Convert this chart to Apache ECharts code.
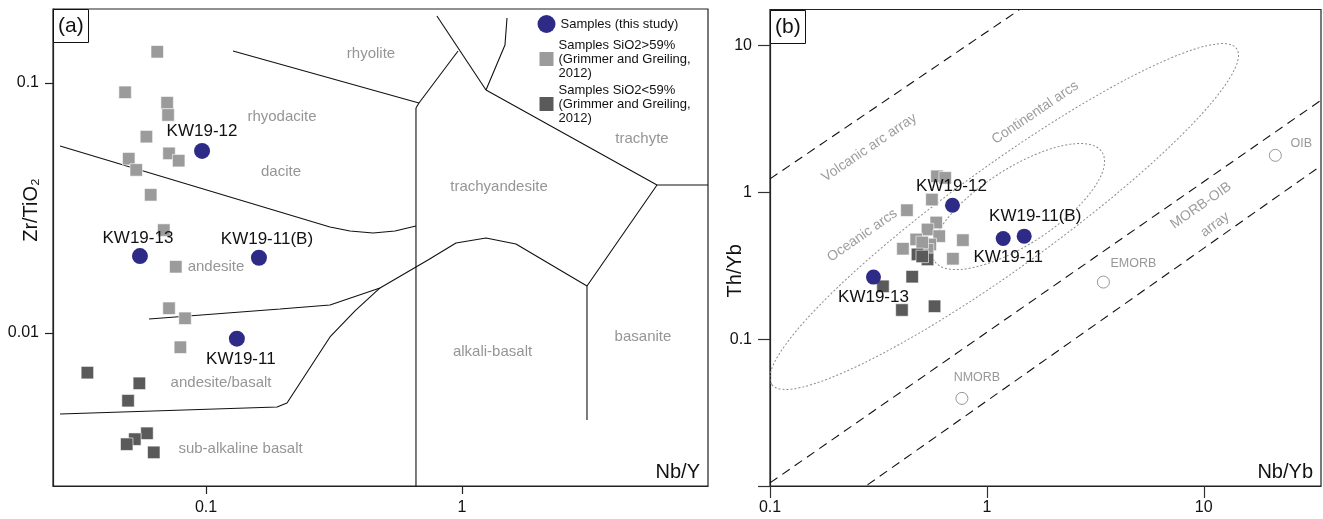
<!DOCTYPE html>
<html><head><meta charset="utf-8">
<script src="https://cdn.jsdelivr.net/npm/echarts@6/dist/echarts.min.js"></script>
<style>html,body{margin:0;padding:0;background:#fff}#c{width:1323px;height:519px}</style>
</head><body><div id="c"></div><script>
const FONT = 'Liberation Sans';

// ---------- legend / series names ----------
const N_SAMPLES = 'Samples (this study)';
const N_HIGH = 'Samples SiO2>59%\n(Grimmer and Greiling,\n2012)';
const N_LOW = 'Samples SiO2<59%\n(Grimmer and Greiling,\n2012)';

// ---------- Panel (a): Zr/TiO2 vs Nb/Y ----------
const a_xRange = [0.02525, 9.141];
const a_yRange = [0.002443, 0.1977];
const a_xTicks = [0.1, 1];
const a_yTicks = [0.01, 0.1];
const a_samples = [['KW19-12', 0.0965, 0.0535], ['KW19-13', 0.0552, 0.0203], ['KW19-11(B)', 0.161, 0.0200], ['KW19-11', 0.132, 0.00949]];
const a_high = [[0.0645,0.1333],[0.0483,0.0918],[0.0705,0.0834],[0.0711,0.0745],[0.0585,0.0610],[0.0717,0.0523],[0.0782,0.0489],[0.0499,0.0498],[0.0534,0.0449],[0.0608,0.0357],[0.0684,0.0258],[0.0762,0.0184],[0.0717,0.01256],[0.0828,0.01145],[0.0794,0.00877]];
const a_low = [[0.0344,0.00694],[0.0549,0.00629],[0.0496,0.00536],[0.0588,0.00397],[0.0527,0.00376],[0.0490,0.00359],[0.0625,0.00333]];
const a_lineA = [[0.1275,0.1343],[0.679,0.0832],[0.661,0.0794]];
const a_lineB = [[0.679,0.0832],[0.965,0.1343]];
const a_lineC = [[0.798,0.1854],[1.241,0.0938]];
const a_lineD = [[1.241,0.0938],[1.472,0.1419],[1.499,0.1820]];
const a_lineE = [[1.241,0.0938],[5.778,0.03908],[9.14,0.03908]];
const a_lineF = [[5.778,0.03908],[3.078,0.01542],[3.078,0.004487]];
const a_lineG = [[0.661,0.0794],[0.661,0.002443]];
const a_lineH = [[0.0269,0.05598],[0.3050,0.02655],[0.3652,0.02559],[0.4491,0.02512],[0.5474,0.02559],[0.661,0.02679]];
const a_lineI = [[0.05988,0.01138],[0.1945,0.01247],[0.3050,0.01294],[0.4783,0.01514],[0.7364,0.01959],[0.9475,0.02291],[1.241,0.02399],[1.625,0.0227],[2.072,0.01959],[3.078,0.01542]];
const a_lineJ = [[0.0269,0.004742],[0.1894,0.005058],[0.2072,0.005248],[0.3050,0.009638],[0.3820,0.01225],[0.4783,0.01514]];
const a_fields = [['rhyolite',0.4411,0.1306],['rhyodacite',0.1981,0.0731],['dacite',0.1963,0.04406],['trachyte',5.047,0.0597],['trachyandesite',1.395,0.03837],['andesite',0.1094,0.01837],['andesite/basalt',0.1145,0.00631],['sub-alkaline basalt',0.1364,0.003436],['alkali-basalt',1.316,0.00839],['basanite',5.093,0.00964]];

// ---------- Panel (b): Th/Yb vs Nb/Yb ----------
const b_xRange = [0.1, 34.72];
const b_yRange = [0.01, 17.56];
const b_xTicks = [0.1, 1, 10];
const b_yTickMarks = [0.01, 0.1, 1, 10];
const b_yTicks = [0.1, 1, 10];
const b_samples = [['KW19-12',0.694,0.816],['KW19-11',1.189,0.4848],['KW19-11(B)',1.486,0.5025],['KW19-13',0.300,0.2646]];
const b_high = [[0.5885,1.284],[0.6424,1.253],[0.5580,0.892],[0.4279,0.7548],[0.5840,0.6225],[0.5325,0.5579],[0.6029,0.5025],[0.4722,0.4773],[0.5481,0.4413],[0.7750,0.4721],[0.4101,0.4125],[0.5325,0.4061],[0.6972,0.3528],[0.5035,0.4553]];
const b_low = [[0.4787,0.3775],[0.5325,0.3490],[0.4526,0.2662],[0.3318,0.2288],[0.4058,0.1579],[0.5737,0.1674],[0.5035,0.3658]];
const b_refs = [['OIB',21.38,1.784],['EMORB',3.446,0.2447],['NMORB',0.7671,0.03949]];
const b_arcLine = [[0.1,1.234],[1.409,17.43]];
const b_morbUpper = [[0.1,0.0105],[34.7,4.23]];
const b_morbLower = [[0.2814,0.01017],[34.7,1.515]];
// ellipse: major-axis end 1, major-axis end 2, point on minor axis
const b_ellipseOuter = [0.1019,0.04915,14.17,9.513,1.650,0.3584];
const b_ellipseInner = [0.5723,0.3408,3.396,1.876,1.736,0.4855];
const b_fields = [['Volcanic arc array',0.2868,2.012],['Continental arcs',1.670,3.478],['Oceanic arcs',0.2663,0.5078],['MORB-OIB',9.718,0.812],['array',11.27,0.6034]];

// ---------- styles ----------
const C_BLUE = '#2e2b87', C_HIGH = '#9b9b9b', C_LOW = '#5a5a5a';
const labelOffA = {'KW19-12':[0,-20],'KW19-13':[-2,-18],'KW19-11(B)':[8,-18],'KW19-11':[4,21]};
const labelOffB = {'KW19-12':[-1,-19],'KW19-11':[5,19],'KW19-11(B)':[11,-20],'KW19-13':[0,20]};
const refOff = {'OIB':[26,-12],'EMORB':[30,-19],'NMORB':[15,-21]};
const fieldRot = {'Volcanic arc array':34,'Continental arcs':34,'Oceanic arcs':35,'MORB-OIB':35,'array':37};

const fmt = v => String(+Number(v).toPrecision(3));

function lineS(data, gi, dashed) {
  return {type:'line', xAxisIndex:gi, yAxisIndex:gi, data, symbol:'none', silent:true, z:2,
    lineStyle:{color:'#111', width:1.1, type: dashed ? [9,6] : 'solid'}};
}
function fieldS(arr, gi, size, color, rot) {
  return {type:'scatter', xAxisIndex:gi, yAxisIndex:gi, symbolSize:0, silent:true, z:3,
    data: arr.map(f => ({name:f[0], value:[f[1], f[2]], label:{rotate: rot ? (rot[f[0]]||0) : 0}})),
    label:{show:true, position:'inside', formatter:'{b}', color, fontSize:size, fontFamily:FONT}};
}
function squares(arr, gi, name, color, size) {
  return {type:'scatter', name, xAxisIndex:gi, yAxisIndex:gi, symbol:'rect', symbolSize:size, z:5,
    data:arr, itemStyle:{color, borderColor:'#fff', borderWidth:0.6, opacity:1}};
}
function samplesS(arr, gi, offs, size) {
  return {type:'scatter', name:N_SAMPLES, xAxisIndex:gi, yAxisIndex:gi, symbol:'circle', symbolSize:size, z:7,
    itemStyle:{color:C_BLUE, opacity:1},
    data: arr.map(s => ({name:s[0], value:[s[1], s[2]], label:{offset:offs[s[0]]}})),
    label:{show:true, position:'inside', formatter:'{b}', color:'#111', fontSize:17, fontFamily:FONT}};
}
function ellipseS(list, gi) {
  return {type:'custom', xAxisIndex:gi, yAxisIndex:gi, silent:true, z:2, data:list,
    encode:{x:[0,2,4], y:[1,3,5]},
    renderItem(params, api) {
      const p1 = api.coord([api.value(0), api.value(1)]);
      const p2 = api.coord([api.value(2), api.value(3)]);
      const p3 = api.coord([api.value(4), api.value(5)]);
      const cx = (p1[0]+p2[0])/2, cy = (p1[1]+p2[1])/2;
      const rx = Math.hypot(p2[0]-p1[0], p2[1]-p1[1])/2;
      const ry = Math.hypot(p3[0]-cx, p3[1]-cy);
      const ang = Math.atan2(p2[1]-p1[1], p2[0]-p1[0]);
      return {type:'ellipse', x:cx, y:cy, rotation:-ang, shape:{cx:0, cy:0, rx, ry},
        style:{fill:null, stroke:'#8c8c8c', lineWidth:1, lineDash:[2,2]}};
    }};
}
function axisCommon() {
  return {
    axisLine:{show:true, onZero:false, lineStyle:{color:'#222', width:1.2}},
    splitLine:{show:false}, minorTick:{show:false}, minorSplitLine:{show:false},
    nameMoveOverlap:false
  };
}
const legendText = {fontSize:13, lineHeight:14, color:'#111', fontFamily:FONT};

const option = {
  animation:false,
  backgroundColor:'#fff',
  title:[
    {text:'(a)', left:53, top:9, padding:[5,5,5,5], borderColor:'#111', borderWidth:1, backgroundColor:'#fff',
     textStyle:{fontSize:21, fontWeight:'normal', color:'#111', fontFamily:FONT, lineHeight:24}},
    {text:'(b)', left:770, top:10, padding:[5,5,5,5], borderColor:'#111', borderWidth:1, backgroundColor:'#fff',
     textStyle:{fontSize:21, fontWeight:'normal', color:'#111', fontFamily:FONT, lineHeight:24}}
  ],
  legend:[
    {left:537.5, top:15, padding:0, itemWidth:18, itemHeight:18, itemTextGap:7.5, selectedMode:false,
     data:[{name:N_SAMPLES, icon:'circle'}], textStyle:legendText},
    {left:539.5, top:38, padding:0, itemWidth:14, itemHeight:14, itemTextGap:9.5, selectedMode:false,
     itemStyle:{borderWidth:0},
     data:[{name:N_HIGH, icon:'rect'}], textStyle:legendText},
    {left:539.5, top:83, padding:0, itemWidth:14, itemHeight:14, itemTextGap:9.5, selectedMode:false,
     itemStyle:{borderWidth:0},
     data:[{name:N_LOW, icon:'rect'}], textStyle:legendText}
  ],
  grid:[
    {left:53, top:9, width:655, height:477, show:true, borderColor:'#222', borderWidth:1.2, backgroundColor:'transparent', outerBoundsMode:'none', containLabel:false},
    {left:770, top:9.5, width:551, height:476.5, show:true, borderColor:'#222', borderWidth:1.2, backgroundColor:'transparent', outerBoundsMode:'none', containLabel:false}
  ],
  xAxis:[
    Object.assign(axisCommon(), {gridIndex:0, type:'log', logBase:10, min:a_xRange[0], max:a_xRange[1],
      axisTick:{show:true, length:8, customValues:a_xTicks, lineStyle:{color:'#222', width:1.2}},
      axisLabel:{customValues:a_xTicks, formatter:fmt, fontSize:16, color:'#111', margin:14, fontFamily:FONT},
      name:'Nb/Y', nameLocation:'end', nameGap:-8,
      nameTextStyle:{fontSize:20, color:'#111', fontFamily:FONT, align:'right', verticalAlign:'bottom', padding:[0,0,4,0]}}),
    Object.assign(axisCommon(), {gridIndex:1, type:'log', logBase:10, min:b_xRange[0], max:b_xRange[1],
      axisTick:{show:true, length:12, customValues:b_xTicks, lineStyle:{color:'#333', width:1.2}},
      axisLabel:{customValues:b_xTicks, formatter:fmt, fontSize:16, color:'#111', margin:14, fontFamily:FONT},
      name:'Nb/Yb', nameLocation:'end', nameGap:-8,
      nameTextStyle:{fontSize:20, color:'#111', fontFamily:FONT, align:'right', verticalAlign:'bottom', padding:[0,0,4,0]}})
  ],
  yAxis:[
    Object.assign(axisCommon(), {gridIndex:0, type:'log', logBase:10, min:a_yRange[0], max:a_yRange[1],
      axisTick:{show:true, length:8, customValues:a_yTicks, lineStyle:{color:'#222', width:1.2}},
      axisLabel:{customValues:a_yTicks, formatter:fmt, fontSize:16, color:'#111', margin:14, fontFamily:FONT},
      name:'Zr/TiO\u2082', nameLocation:'middle', nameRotate:90, nameGap:12,
      nameTextStyle:{fontSize:20, color:'#111', fontFamily:FONT, padding:[0,0,0,75]}}),
    Object.assign(axisCommon(), {gridIndex:1, type:'log', logBase:10, min:b_yRange[0], max:b_yRange[1],
      axisTick:{show:true, length:12, customValues:b_yTickMarks, lineStyle:{color:'#333', width:1.2}},
      axisLabel:{customValues:b_yTicks, formatter:fmt, fontSize:16, color:'#111', margin:18, fontFamily:FONT},
      name:'Th/Yb', nameLocation:'middle', nameRotate:90, nameGap:25,
      nameTextStyle:{fontSize:20, color:'#111', fontFamily:FONT, padding:[0,46,0,0]}})
  ],
  series:[
    // panel a
    lineS(a_lineA,0), lineS(a_lineB,0), lineS(a_lineC,0), lineS(a_lineD,0), lineS(a_lineE,0),
    lineS(a_lineF,0), lineS(a_lineG,0), lineS(a_lineH,0), lineS(a_lineI,0), lineS(a_lineJ,0),
    fieldS(a_fields, 0, 15, '#7b7b7b'),
    squares(a_high, 0, N_HIGH, C_HIGH, 12.5),
    squares(a_low, 0, N_LOW, C_LOW, 12.5),
    samplesS(a_samples, 0, labelOffA, 16),
    // panel b
    lineS(b_arcLine,1,true), lineS(b_morbUpper,1,true), lineS(b_morbLower,1,true),
    ellipseS([b_ellipseOuter, b_ellipseInner], 1),
    fieldS(b_fields, 1, 14, '#858585', fieldRot),
    {type:'scatter', xAxisIndex:1, yAxisIndex:1, symbol:'circle', symbolSize:12, z:4, silent:true,
     itemStyle:{color:'#fff', borderColor:'#7d7d7d', borderWidth:1},
     data: b_refs.map(r => ({name:r[0], value:[r[1], r[2]], label:{offset:refOff[r[0]]}})),
     label:{show:true, position:'inside', formatter:'{b}', color:'#7d7d7d', fontSize:12.5, fontFamily:FONT}},
    squares(b_high, 1, N_HIGH, C_HIGH, 12.5),
    squares(b_low, 1, N_LOW, C_LOW, 12.5),
    samplesS(b_samples, 1, labelOffB, 15)
  ]
};
const chart = echarts.init(document.getElementById('c'), null, {renderer:'canvas'});
chart.setOption(option);
</script></body></html>
